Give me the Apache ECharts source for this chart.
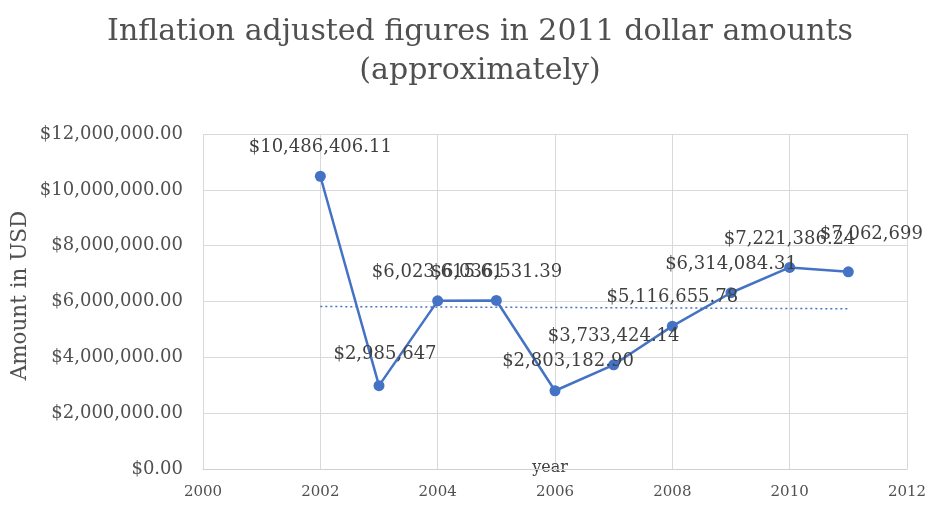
<!DOCTYPE html>
<html>
<head>
<meta charset="utf-8">
<script src="https://cdn.jsdelivr.net/npm/echarts@6/dist/echarts.min.js"></script>
<style>html,body{margin:0;padding:0;background:#fff}#c{width:938px;height:509px}</style>
</head>
<body>
<div id="c"></div>
<script>
var years = [2002, 2003, 2004, 2005, 2006, 2007, 2008, 2009, 2010, 2011];
var amounts = [10486406.11, 2985647, 6023615.61, 6036531.39, 2803182.90, 3733424.14, 5116655.78, 6314084.31, 7221386.24, 7062699];
var labels = ['$10,486,406.11', '$2,985,647', '$6,023,615.61', '$6,036,531.39', '$2,803,182.90', '$3,733,424.14', '$5,116,655.78', '$6,314,084.31', '$7,221,386.24', '$7,062,699'];
var trendYears = [2002, 2011];
var trendValues = [5820000, 5740000];
var yTicks = [0, 2000000, 4000000, 6000000, 8000000, 10000000, 12000000];
var xTicks = [2000, 2002, 2004, 2006, 2008, 2010, 2012];

var FONT = '"DejaVu Serif", serif';
var textColor = '#505050';
var labelOffsets = {1: [6, -3], 4: [13, -1], 9: [23, -9]};

var data = years.map(function (y, i) {
  var item = { value: [y, amounts[i]] };
  if (labelOffsets[i]) item.label = { offset: labelOffsets[i] };
  return item;
});

function money(v) {
  var s = Math.round(v).toString().replace(/\B(?=(\d{3})+(?!\d))/g, ',');
  return '$' + s + '.00';
}

var chart = echarts.init(document.getElementById('c'));
chart.setOption({
  animation: false,
  backgroundColor: '#fff',
  title: {
    text: 'Inflation adjusted figures in 2011 dollar amounts\n(approximately)',
    left: 475,
    textAlign: 'center',
    top: 8,
    textStyle: { fontFamily: FONT, fontSize: 30, fontWeight: 'normal', color: textColor, lineHeight: 39 }
  },
  grid: { left: 203, right: 31, top: 134, bottom: 40, containLabel: false, outerBoundsMode: 'none' },
  xAxis: {
    type: 'value', min: xTicks[0], max: xTicks[xTicks.length - 1], interval: xTicks[1] - xTicks[0],
    name: 'year', nameLocation: 'middle', nameGap: -9, nameMoveOverlap: false,
    nameTextStyle: { fontFamily: FONT, fontSize: 16, color: '#404040', padding: [0, 10, 0, 0] },
    axisLine: { show: true, lineStyle: { color: '#d0d0d0' } },
    axisTick: { show: false },
    axisLabel: { fontFamily: FONT, fontSize: 15, color: textColor, margin: 16, formatter: function (v) { return String(v); } },
    splitLine: { show: true, lineStyle: { color: '#d9d9d9' } }
  },
  yAxis: {
    type: 'value', min: yTicks[0], max: yTicks[yTicks.length - 1], interval: yTicks[1] - yTicks[0],
    name: 'Amount in USD', nameLocation: 'middle', nameGap: 172, nameRotate: 90, nameMoveOverlap: false,
    nameTextStyle: { fontFamily: FONT, fontSize: 21.5, color: textColor, padding: [0, 0, 0, 12] },
    axisLine: { show: false },
    axisTick: { show: false },
    axisLabel: { fontFamily: FONT, fontSize: 18, color: textColor, margin: 20, formatter: money },
    splitLine: { show: true, lineStyle: { color: '#d9d9d9' } }
  },
  series: [
    {
      type: 'line',
      data: data,
      symbol: 'circle',
      symbolSize: 11,
      itemStyle: { color: '#4472C4' },
      lineStyle: { color: '#4472C4', width: 2.5 },
      label: {
        show: true, position: 'top', distance: 14,
        fontFamily: FONT, fontSize: 18, color: '#404040',
        formatter: function (p) { return labels[p.dataIndex]; }
      },
      z: 3
    },
    {
      type: 'line',
      data: trendYears.map(function (y, i) { return [y, trendValues[i]]; }),
      symbol: 'none',
      lineStyle: { color: '#4472C4', width: 1.5, type: [2, 3] },
      z: 2
    }
  ]
});
</script>
</body>
</html>
